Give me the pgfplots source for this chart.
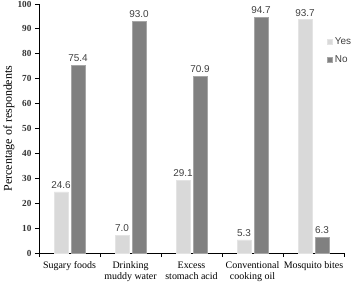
\documentclass[border=0pt]{standalone}
\usepackage{fontspec}
\setmainfont{Liberation Serif}
\setsansfont{Liberation Sans}
\usepackage{pgfplots}
\pgfplotsset{compat=1.18}
\usetikzlibrary{calc}
\definecolor{yescol}{HTML}{D9D9D9}
\definecolor{nocol}{HTML}{808080}
\definecolor{lblcol}{HTML}{404040}
\begin{document}
\begin{tikzpicture}
\begin{axis}[
  name=ax,
  scale only axis,
  width=305bp, height=249bp,
  xmin=-0.5, xmax=4.5,
  ymin=0, ymax=100,
  ytick={0,10,...,100},
  xtick={0,1,2,3,4},
  xticklabels={Sugary foods,{Drinking\\muddy water},{Excess\\stomach acid},{Conventional\\cooking oil},Mosquito bites},
  minor xtick={-0.5,0.5,1.5,2.5,3.5,4.5},
  every major x tick/.style={draw=none},
  tick align=outside,
  major tick length=4bp,
  minor tick length=4bp,
  axis x line*=bottom,
  axis y line*=left,
  axis line style={line width=0.8bp},
  every tick/.style={black, line width=0.8bp},
  /pgf/number format/assume math mode=true,
  xticklabel style={font=\fontsize{10}{11.5}\selectfont, align=center, anchor=north, yshift=-1bp},
  yticklabel style={font=\fontsize{9.3}{11}\selectfont\bfseries, color=black!80},
  ylabel={Percentage of respondents},
  every axis y label/.style={at={(rel axis cs:0,0.5)}, rotate=90, anchor=center, yshift=30bp, font=\fontsize{12}{14}\selectfont},
  ybar,
  bar width=14bp,
  nodes near coords={\pgfmathprintnumber[fixed,fixed zerofill,precision=1]{\pgfplotspointmeta}},
  every node near coord/.append style={font=\sffamily\fontsize{10}{12}\selectfont, color=lblcol, /pgf/number format/assume math mode=true},
  legend style={at={(rel axis cs:0.945,0.875)}, anchor=north west, draw=none, fill=none,
    font=\sffamily\fontsize{10}{12}\selectfont, text=lblcol, row sep=6bp, inner sep=0pt,
    /tikz/every even column/.append style={column sep=1bp}},
  legend cell align=left,
  legend image code/.code={\fill[#1] (0bp,-2.5bp) rectangle (5bp,2.5bp);},
]
\addplot[fill=yescol, draw=yescol!70!white, line width=0.5bp, bar shift=-8.5bp] coordinates {(0,24.6) (1,7.0) (2,29.1) (3,5.3) (4,93.7)};
\addplot[fill=nocol, draw=nocol!70!white, line width=0.5bp, bar shift=8.5bp] coordinates {(0,75.4) (1,93.0) (2,70.9) (3,94.7) (4,6.3)};
\legend{Yes,No}
\end{axis}
\pgfresetboundingbox
\path ($(ax.south west)+(-39bp,-29bp)$) rectangle ($(ax.north east)+(12bp,4bp)$);
\end{tikzpicture}
\end{document}
